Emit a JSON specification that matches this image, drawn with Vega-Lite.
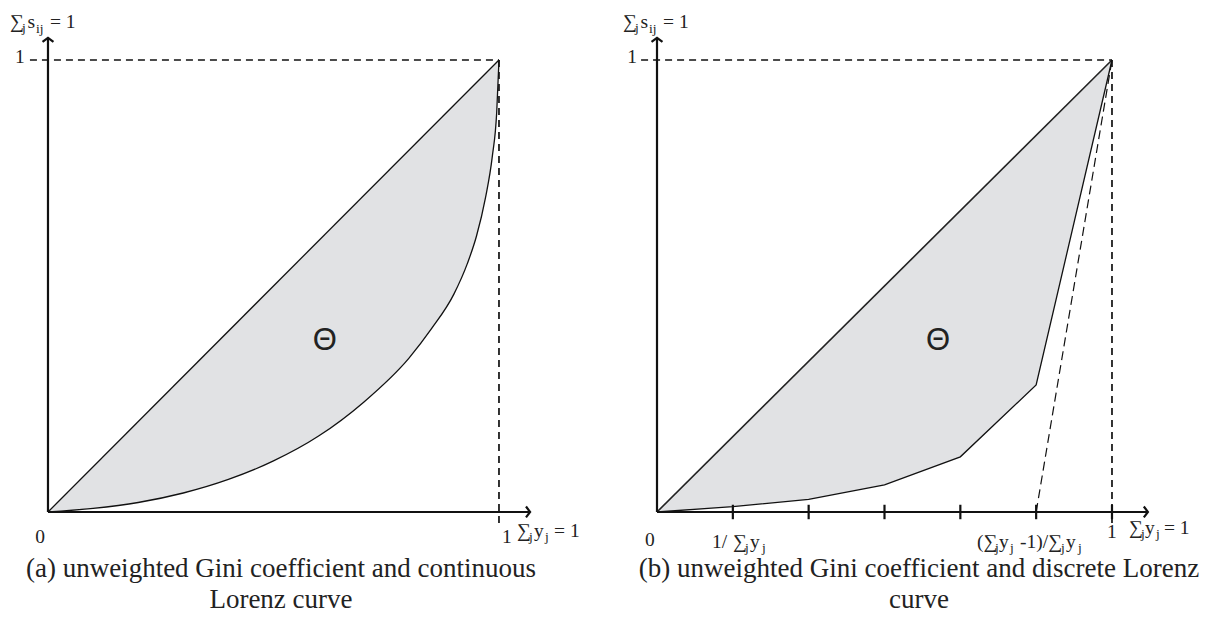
{
  "$schema": "https://vega.github.io/schema/vega-lite/v6.json",
  "background": "white",
  "padding": 0,
  "spacing": 0,
  "config": {"view": {"stroke": null}, "concat": {"spacing": 0}},
  "datasets": {
    "lorenzA": [
      {"x": 0, "s": 0, "d": 0},
      {"x": 0.1, "s": 0.008, "d": 0.1},
      {"x": 0.2, "s": 0.021, "d": 0.2},
      {"x": 0.3, "s": 0.042, "d": 0.3},
      {"x": 0.4, "s": 0.072, "d": 0.4},
      {"x": 0.5, "s": 0.113, "d": 0.5},
      {"x": 0.6, "s": 0.168, "d": 0.6},
      {"x": 0.7, "s": 0.243, "d": 0.7},
      {"x": 0.8, "s": 0.34, "d": 0.8},
      {"x": 0.85, "s": 0.405, "d": 0.85},
      {"x": 0.9, "s": 0.482, "d": 0.9},
      {"x": 0.93, "s": 0.55, "d": 0.93},
      {"x": 0.95, "s": 0.61, "d": 0.95},
      {"x": 0.97, "s": 0.695, "d": 0.97},
      {"x": 0.985, "s": 0.785, "d": 0.985},
      {"x": 0.995, "s": 0.885, "d": 0.995},
      {"x": 1, "s": 1, "d": 1}
    ],
    "lorenzB": [
      {"x": 0, "s": 0, "d": 0},
      {"x": 0.1667, "s": 0.012, "d": 0.1667},
      {"x": 0.3333, "s": 0.028, "d": 0.3333},
      {"x": 0.5, "s": 0.06, "d": 0.5},
      {"x": 0.6667, "s": 0.122, "d": 0.6667},
      {"x": 0.8333, "s": 0.281, "d": 0.8333},
      {"x": 1, "s": 1, "d": 1}
    ],
    "segs": [
      {"panel": "a", "kind": "diag", "x": 0, "y": 0, "x2": 1, "y2": 1},
      {"panel": "a", "kind": "dash", "x": -0.04, "y": 1, "x2": 1, "y2": 1},
      {"panel": "a", "kind": "dash", "x": 1, "y": 1, "x2": 1, "y2": -0.025},
      {"panel": "a", "kind": "axis", "x": 0, "y": 0, "x2": 0, "y2": 1.049},
      {"panel": "a", "kind": "axis", "x": 0, "y": 0, "x2": 1.069, "y2": 0},
      {"panel": "b", "kind": "diag", "x": 0, "y": 0, "x2": 1, "y2": 1},
      {"panel": "b", "kind": "dash", "x": -0.035, "y": 1, "x2": 1, "y2": 1},
      {"panel": "b", "kind": "dash", "x": 1, "y": 1, "x2": 1, "y2": -0.025},
      {"panel": "b", "kind": "slope", "x": 0.8333, "y": 0, "x2": 1, "y2": 1},
      {"panel": "b", "kind": "axis", "x": 0, "y": 0, "x2": 0, "y2": 1.049},
      {"panel": "b", "kind": "axis", "x": 0, "y": 0, "x2": 1.079, "y2": 0},
      {"panel": "b", "kind": "tick", "x": 0.1667, "y": -0.016, "x2": 0.1667, "y2": 0.016},
      {"panel": "b", "kind": "tick", "x": 0.3333, "y": -0.016, "x2": 0.3333, "y2": 0.016},
      {"panel": "b", "kind": "tick", "x": 0.5, "y": -0.016, "x2": 0.5, "y2": 0.016},
      {"panel": "b", "kind": "tick", "x": 0.6667, "y": -0.016, "x2": 0.6667, "y2": 0.016},
      {"panel": "b", "kind": "tick", "x": 0.8333, "y": -0.016, "x2": 0.8333, "y2": 0.016},
      {"panel": "b", "kind": "tick", "x": 1, "y": -0.016, "x2": 1, "y2": 0.016}
    ],
    "arrows": [
      {"panel": "a", "dir": "up", "x": 0, "y": 1.049},
      {"panel": "a", "dir": "right", "x": 1.069, "y": 0},
      {"panel": "b", "dir": "up", "x": 0, "y": 1.049},
      {"panel": "b", "dir": "right", "x": 1.079, "y": 0}
    ],
    "labels": [
      {"panel": "a", "kind": "base", "x": -0.0843, "y": 1.0708, "text": "∑"},
      {"panel": "a", "kind": "sub", "x": -0.0576, "y": 1.0619, "text": "j"},
      {"panel": "a", "kind": "base", "x": -0.0455, "y": 1.0708, "text": "s"},
      {"panel": "a", "kind": "sub", "x": -0.0266, "y": 1.0597, "text": "ij"},
      {"panel": "a", "kind": "base", "x": 0.0044, "y": 1.0708, "text": "= 1"},
      {"panel": "a", "kind": "base", "x": 1.0399, "y": -0.0553, "text": "∑"},
      {"panel": "a", "kind": "sub", "x": 1.0665, "y": -0.0642, "text": "j"},
      {"panel": "a", "kind": "base", "x": 1.0776, "y": -0.0553, "text": "y"},
      {"panel": "a", "kind": "sub", "x": 1.102, "y": -0.0642, "text": "j"},
      {"panel": "a", "kind": "base", "x": 1.122, "y": -0.0553, "text": "= 1"},
      {"panel": "a", "kind": "num", "x": -0.0621, "y": 1.0066, "text": "1"},
      {"panel": "a", "kind": "num", "x": -0.0177, "y": -0.0553, "text": "0"},
      {"panel": "a", "kind": "num", "x": 1.0177, "y": -0.0553, "text": "1"},
      {"panel": "a", "kind": "theta", "x": 0.614, "y": 0.378, "text": "Θ"},
      {"panel": "a", "kind": "caption", "x": 0.5166, "y": -0.1261, "text": "(a) unweighted Gini coefficient and continuous"},
      {"panel": "a", "kind": "caption", "x": 0.5166, "y": -0.1947, "text": "Lorenz curve"},
      {"panel": "b", "kind": "base", "x": -0.0747, "y": 1.0708, "text": "∑"},
      {"panel": "b", "kind": "sub", "x": -0.0484, "y": 1.0619, "text": "j"},
      {"panel": "b", "kind": "base", "x": -0.0363, "y": 1.0708, "text": "s"},
      {"panel": "b", "kind": "sub", "x": -0.0176, "y": 1.0597, "text": "ij"},
      {"panel": "b", "kind": "base", "x": 0.0132, "y": 1.0708, "text": "= 1"},
      {"panel": "b", "kind": "base", "x": 1.0374, "y": -0.0487, "text": "∑"},
      {"panel": "b", "kind": "sub", "x": 1.0637, "y": -0.0575, "text": "j"},
      {"panel": "b", "kind": "base", "x": 1.0725, "y": -0.0487, "text": "y"},
      {"panel": "b", "kind": "sub", "x": 1.0967, "y": -0.0575, "text": "j"},
      {"panel": "b", "kind": "base", "x": 1.1143, "y": -0.0487, "text": "= 1"},
      {"panel": "b", "kind": "base", "x": 0.1209, "y": -0.0796, "text": "1/"},
      {"panel": "b", "kind": "base", "x": 0.167, "y": -0.0796, "text": "∑"},
      {"panel": "b", "kind": "sub", "x": 0.1934, "y": -0.0885, "text": "j"},
      {"panel": "b", "kind": "base", "x": 0.2044, "y": -0.0796, "text": "y"},
      {"panel": "b", "kind": "sub", "x": 0.2308, "y": -0.0885, "text": "j"},
      {"panel": "b", "kind": "base", "x": 0.7033, "y": -0.0796, "text": "(∑"},
      {"panel": "b", "kind": "sub", "x": 0.7429, "y": -0.0885, "text": "j"},
      {"panel": "b", "kind": "base", "x": 0.7516, "y": -0.0796, "text": "y"},
      {"panel": "b", "kind": "sub", "x": 0.7758, "y": -0.0885, "text": "j"},
      {"panel": "b", "kind": "base", "x": 0.7978, "y": -0.0796, "text": "-1)/∑"},
      {"panel": "b", "kind": "sub", "x": 0.8879, "y": -0.0885, "text": "j"},
      {"panel": "b", "kind": "base", "x": 0.8989, "y": -0.0796, "text": "y"},
      {"panel": "b", "kind": "sub", "x": 0.9253, "y": -0.0885, "text": "j"},
      {"panel": "b", "kind": "num", "x": -0.0549, "y": 1.0066, "text": "1"},
      {"panel": "b", "kind": "num", "x": -0.0154, "y": -0.062, "text": "0"},
      {"panel": "b", "kind": "num", "x": 1.0, "y": -0.0442, "text": "1"},
      {"panel": "b", "kind": "theta", "x": 0.6176, "y": 0.378, "text": "Θ"},
      {"panel": "b", "kind": "caption", "x": 0.5758, "y": -0.1261, "text": "(b) unweighted Gini coefficient and discrete Lorenz"},
      {"panel": "b", "kind": "caption", "x": 0.5758, "y": -0.1947, "text": "curve"}
    ]
  },
  "hconcat": [
    {
      "width": 607,
      "height": 623,
      "encoding": {
        "x": {"type": "quantitative", "scale": {"domain": [-0.1064, 1.2395], "nice": false, "zero": false}, "axis": null},
        "y": {"type": "quantitative", "scale": {"domain": [-0.2456, 1.1327], "nice": false, "zero": false}, "axis": null}
      },
      "layer": [
        {
          "data": {"name": "lorenzA"},
          "mark": {"type": "area", "interpolate": "monotone", "fill": "#e1e2e4", "stroke": null},
          "encoding": {"x": {"field": "x", "type": "quantitative"}, "y": {"field": "s", "type": "quantitative"}, "y2": {"field": "d"}}
        },
        {
          "data": {"name": "lorenzA"},
          "mark": {"type": "line", "interpolate": "monotone", "color": "#111", "strokeWidth": 1.3},
          "encoding": {"x": {"field": "x", "type": "quantitative"}, "y": {"field": "s", "type": "quantitative"}}
        },
        {
          "data": {"name": "segs"},
          "transform": [{"filter": "datum.panel == 'a' && datum.kind == 'diag'"}],
          "mark": {"type": "rule", "color": "#111", "strokeWidth": 1.3},
          "encoding": {"x": {"field": "x", "type": "quantitative"}, "y": {"field": "y", "type": "quantitative"}, "x2": {"field": "x2"}, "y2": {"field": "y2"}}
        },
        {
          "data": {"name": "segs"},
          "transform": [{"filter": "datum.panel == 'a' && datum.kind == 'dash'"}],
          "mark": {"type": "rule", "color": "#111", "strokeWidth": 1.7, "strokeDash": [7, 5]},
          "encoding": {"x": {"field": "x", "type": "quantitative"}, "y": {"field": "y", "type": "quantitative"}, "x2": {"field": "x2"}, "y2": {"field": "y2"}}
        },
        {
          "data": {"name": "segs"},
          "transform": [{"filter": "datum.panel == 'a' && datum.kind == 'axis'"}],
          "mark": {"type": "rule", "color": "#111", "strokeWidth": 2.2},
          "encoding": {"x": {"field": "x", "type": "quantitative"}, "y": {"field": "y", "type": "quantitative"}, "x2": {"field": "x2"}, "y2": {"field": "y2"}}
        },
        {
          "data": {"name": "arrows"},
          "transform": [{"filter": "datum.panel == 'a' && datum.dir == 'up'"}],
          "mark": {"type": "point", "shape": "M -1 0.75 L 0 0 L 1 0.75", "filled": false, "stroke": "#111", "strokeWidth": 2.2, "size": 120, "opacity": 1},
          "encoding": {"x": {"field": "x", "type": "quantitative"}, "y": {"field": "y", "type": "quantitative"}}
        },
        {
          "data": {"name": "arrows"},
          "transform": [{"filter": "datum.panel == 'a' && datum.dir == 'right'"}],
          "mark": {"type": "point", "shape": "M -1 0.75 L 0 0 L 1 0.75", "angle": 90, "filled": false, "stroke": "#111", "strokeWidth": 2.2, "size": 120, "opacity": 1},
          "encoding": {"x": {"field": "x", "type": "quantitative"}, "y": {"field": "y", "type": "quantitative"}}
        },
        {
          "data": {"name": "labels"},
          "transform": [{"filter": "datum.panel == 'a' && datum.kind == 'base'"}],
          "mark": {"type": "text", "align": "left", "baseline": "alphabetic", "font": "Liberation Serif", "fontSize": 19.5, "color": "#222"},
          "encoding": {"x": {"field": "x", "type": "quantitative"}, "y": {"field": "y", "type": "quantitative"}, "text": {"field": "text"}}
        },
        {
          "data": {"name": "labels"},
          "transform": [{"filter": "datum.panel == 'a' && datum.kind == 'sub'"}],
          "mark": {"type": "text", "align": "left", "baseline": "alphabetic", "font": "Liberation Serif", "fontSize": 13.5, "color": "#222"},
          "encoding": {"x": {"field": "x", "type": "quantitative"}, "y": {"field": "y", "type": "quantitative"}, "text": {"field": "text"}}
        },
        {
          "data": {"name": "labels"},
          "transform": [{"filter": "datum.panel == 'a' && datum.kind == 'num'"}],
          "mark": {"type": "text", "align": "center", "baseline": "middle", "font": "Liberation Serif", "fontSize": 19.5, "color": "#222"},
          "encoding": {"x": {"field": "x", "type": "quantitative"}, "y": {"field": "y", "type": "quantitative"}, "text": {"field": "text"}}
        },
        {
          "data": {"name": "labels"},
          "transform": [{"filter": "datum.panel == 'a' && datum.kind == 'theta'"}],
          "mark": {"type": "text", "align": "center", "baseline": "middle", "font": "Liberation Sans", "fontSize": 31, "color": "#222"},
          "encoding": {"x": {"field": "x", "type": "quantitative"}, "y": {"field": "y", "type": "quantitative"}, "text": {"field": "text"}}
        },
        {
          "data": {"name": "labels"},
          "transform": [{"filter": "datum.panel == 'a' && datum.kind == 'caption'"}],
          "mark": {"type": "text", "align": "center", "baseline": "middle", "font": "Liberation Serif", "fontSize": 27, "color": "#222"},
          "encoding": {"x": {"field": "x", "type": "quantitative"}, "y": {"field": "y", "type": "quantitative"}, "text": {"field": "text"}}
        }
      ]
    },
    {
      "width": 608,
      "height": 623,
      "encoding": {
        "x": {"type": "quantitative", "scale": {"domain": [-0.1099, 1.2264], "nice": false, "zero": false}, "axis": null},
        "y": {"type": "quantitative", "scale": {"domain": [-0.2456, 1.1327], "nice": false, "zero": false}, "axis": null}
      },
      "layer": [
        {
          "data": {"name": "lorenzB"},
          "mark": {"type": "area", "fill": "#e1e2e4", "stroke": null},
          "encoding": {"x": {"field": "x", "type": "quantitative"}, "y": {"field": "s", "type": "quantitative"}, "y2": {"field": "d"}}
        },
        {
          "data": {"name": "lorenzB"},
          "mark": {"type": "line", "color": "#111", "strokeWidth": 1.3},
          "encoding": {"x": {"field": "x", "type": "quantitative"}, "y": {"field": "s", "type": "quantitative"}}
        },
        {
          "data": {"name": "segs"},
          "transform": [{"filter": "datum.panel == 'b' && datum.kind == 'diag'"}],
          "mark": {"type": "rule", "color": "#222", "strokeWidth": 1.6},
          "encoding": {"x": {"field": "x", "type": "quantitative"}, "y": {"field": "y", "type": "quantitative"}, "x2": {"field": "x2"}, "y2": {"field": "y2"}}
        },
        {
          "data": {"name": "segs"},
          "transform": [{"filter": "datum.panel == 'b' && datum.kind == 'dash'"}],
          "mark": {"type": "rule", "color": "#111", "strokeWidth": 1.7, "strokeDash": [7, 5]},
          "encoding": {"x": {"field": "x", "type": "quantitative"}, "y": {"field": "y", "type": "quantitative"}, "x2": {"field": "x2"}, "y2": {"field": "y2"}}
        },
        {
          "data": {"name": "segs"},
          "transform": [{"filter": "datum.panel == 'b' && datum.kind == 'slope'"}],
          "mark": {"type": "rule", "color": "#111", "strokeWidth": 1.2, "strokeDash": [9, 5]},
          "encoding": {"x": {"field": "x", "type": "quantitative"}, "y": {"field": "y", "type": "quantitative"}, "x2": {"field": "x2"}, "y2": {"field": "y2"}}
        },
        {
          "data": {"name": "segs"},
          "transform": [{"filter": "datum.panel == 'b' && (datum.kind == 'axis' || datum.kind == 'tick')"}],
          "mark": {"type": "rule", "color": "#111", "strokeWidth": 2.2},
          "encoding": {"x": {"field": "x", "type": "quantitative"}, "y": {"field": "y", "type": "quantitative"}, "x2": {"field": "x2"}, "y2": {"field": "y2"}}
        },
        {
          "data": {"name": "arrows"},
          "transform": [{"filter": "datum.panel == 'b' && datum.dir == 'up'"}],
          "mark": {"type": "point", "shape": "M -1 0.75 L 0 0 L 1 0.75", "filled": false, "stroke": "#111", "strokeWidth": 2.2, "size": 120, "opacity": 1},
          "encoding": {"x": {"field": "x", "type": "quantitative"}, "y": {"field": "y", "type": "quantitative"}}
        },
        {
          "data": {"name": "arrows"},
          "transform": [{"filter": "datum.panel == 'b' && datum.dir == 'right'"}],
          "mark": {"type": "point", "shape": "M -1 0.75 L 0 0 L 1 0.75", "angle": 90, "filled": false, "stroke": "#111", "strokeWidth": 2.2, "size": 120, "opacity": 1},
          "encoding": {"x": {"field": "x", "type": "quantitative"}, "y": {"field": "y", "type": "quantitative"}}
        },
        {
          "data": {"name": "labels"},
          "transform": [{"filter": "datum.panel == 'b' && datum.kind == 'base'"}],
          "mark": {"type": "text", "align": "left", "baseline": "alphabetic", "font": "Liberation Serif", "fontSize": 19.5, "color": "#222"},
          "encoding": {"x": {"field": "x", "type": "quantitative"}, "y": {"field": "y", "type": "quantitative"}, "text": {"field": "text"}}
        },
        {
          "data": {"name": "labels"},
          "transform": [{"filter": "datum.panel == 'b' && datum.kind == 'sub'"}],
          "mark": {"type": "text", "align": "left", "baseline": "alphabetic", "font": "Liberation Serif", "fontSize": 13.5, "color": "#222"},
          "encoding": {"x": {"field": "x", "type": "quantitative"}, "y": {"field": "y", "type": "quantitative"}, "text": {"field": "text"}}
        },
        {
          "data": {"name": "labels"},
          "transform": [{"filter": "datum.panel == 'b' && datum.kind == 'num'"}],
          "mark": {"type": "text", "align": "center", "baseline": "middle", "font": "Liberation Serif", "fontSize": 19.5, "color": "#222"},
          "encoding": {"x": {"field": "x", "type": "quantitative"}, "y": {"field": "y", "type": "quantitative"}, "text": {"field": "text"}}
        },
        {
          "data": {"name": "labels"},
          "transform": [{"filter": "datum.panel == 'b' && datum.kind == 'theta'"}],
          "mark": {"type": "text", "align": "center", "baseline": "middle", "font": "Liberation Sans", "fontSize": 31, "color": "#222"},
          "encoding": {"x": {"field": "x", "type": "quantitative"}, "y": {"field": "y", "type": "quantitative"}, "text": {"field": "text"}}
        },
        {
          "data": {"name": "labels"},
          "transform": [{"filter": "datum.panel == 'b' && datum.kind == 'caption'"}],
          "mark": {"type": "text", "align": "center", "baseline": "middle", "font": "Liberation Serif", "fontSize": 27, "color": "#222"},
          "encoding": {"x": {"field": "x", "type": "quantitative"}, "y": {"field": "y", "type": "quantitative"}, "text": {"field": "text"}}
        }
      ]
    }
  ]
}
